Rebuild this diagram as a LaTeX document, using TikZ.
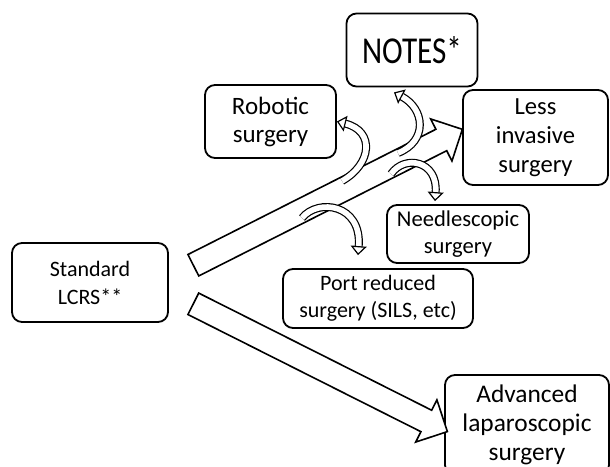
\documentclass[tikz,border=0pt]{standalone}
\usepackage{fontspec}
\setmainfont{Carlito}
\usetikzlibrary{shapes.arrows,arrows.meta,calc}

\begin{document}
\begin{tikzpicture}[x = 0.5pt, y = 0.5pt,
    box/.style = {draw, rounded corners = 5pt, line width = 0.9pt, align = center, inner sep = 0pt},
    bigarrow/.style = {draw, fill = white, single arrow, line width = 0.8pt, inner xsep = 0pt,
        inner ysep = 5.6pt, single arrow head extend = 5.8pt},
    curl/.style = {line width = 0.6pt, double = white, double distance = 2.8pt,
        -{Triangle[open, length = 4.5pt, width = 8pt]}}]
    \useasboundingbox (0,0) rectangle (610,466);
    % boxes
    \node[box, minimum width = 78pt, minimum height = 39.5pt, font = \fontsize{11}{14}\selectfont]
        (std) at (90,183.5) {Standard\\LCRS**};
    \node[box, minimum width = 65.5pt, minimum height = 36.5pt, font = \fontsize{19}{21}\selectfont]
        (notes) at (412,416) {\scalebox{0.82}[1]{NOTES*}};
    \node[box, minimum width = 65.5pt, minimum height = 36.5pt, font = \fontsize{12.5}{14}\selectfont]
        (robotic) at (270.5,344.5) {Robotic\\surgery};
    \node[box, minimum width = 72.5pt, minimum height = 47.5pt, font = \fontsize{12.3}{14.5}\selectfont]
        (less) at (535.5,328.5) {Less\\invasive\\surgery};
    \node[box, minimum width = 71pt, minimum height = 29pt, font = \fontsize{11.3}{13.5}\selectfont]
        (needle) at (458,232) {Needlescopic\\surgery};
    \node[box, minimum width = 95pt, minimum height = 29.5pt, font = \fontsize{11}{13.5}\selectfont]
        (port) at (378,167.5) {Port reduced\\surgery (SILS, etc)};
    \node[box, minimum width = 82pt, minimum height = 50pt, font = \fontsize{12.7}{14.5}\selectfont]
        (adv) at (527,41) {Advanced\\laparoscopic\\surgery};
    % big arrows
    \node[bigarrow, minimum height = 150.7pt, rotate = 26.8] (up) at (322.5,266) {};
    \node[bigarrow, minimum height = 142.2pt, rotate = -26.7] (down) at (315,101) {};
    % curved arrows
    \coordinate (r0) at (342,285);
    \coordinate (n0) at (398,313);
    \coordinate (s0) at (391,292);
    \coordinate (p0) at (302,248);
    \draw[curl] (r0) .. controls (372,302) and (375,335) .. (robotic.east);
    \draw[curl] (n0) .. controls (428,325) and (425,357) .. ($(notes.south)+(-18,-5)$);
    \draw[curl] (s0) .. controls (405,312) and (438,305) .. ($(needle.north)+(-23,3)$);
    \draw[curl] (p0) .. controls (318,268) and (362,262) .. ($(port.north)+(-20,13)$);
\end{tikzpicture}
\end{document}
